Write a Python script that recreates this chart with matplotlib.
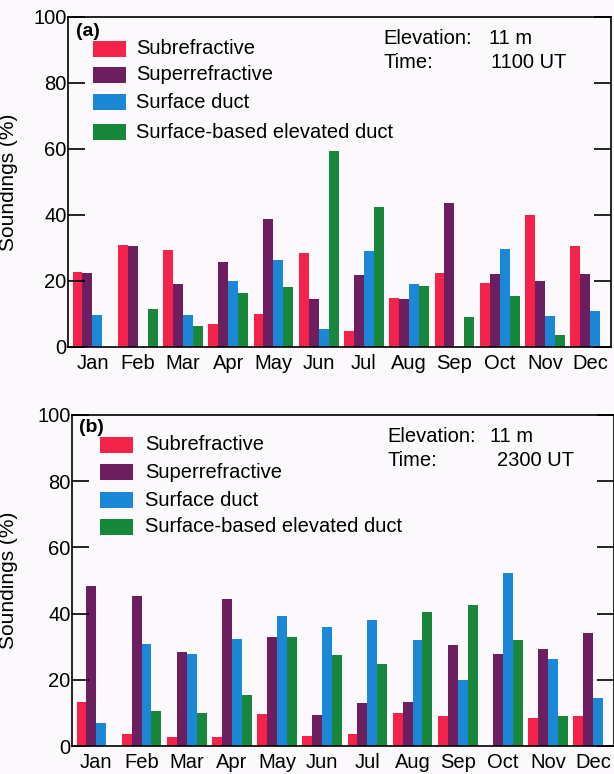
import numpy as np
import matplotlib
matplotlib.use("Agg")
import matplotlib.pyplot as plt
from matplotlib.patches import Rectangle

plt.rcParams['font.family'] = ['Liberation Sans', 'DejaVu Sans']

months = ['Jan', 'Feb', 'Mar', 'Apr', 'May', 'Jun',
          'Jul', 'Aug', 'Sep', 'Oct', 'Nov', 'Dec']
series = ['Subrefractive', 'Superrefractive', 'Surface duct',
          'Surface-based elevated duct']
colors = ['#f5234b', '#6b1f5f', '#1b87d7', '#17883b']

# (a) 1100 UT
sub_a = [22.8, 30.9, 29.3, 7.1, 10.0, 28.6, 4.7, 14.7, 22.4, 19.3, 39.9, 30.6]
sup_a = [22.4, 30.6, 19.2, 25.7, 38.7, 14.4, 21.8, 14.4, 43.6, 22.0, 19.9, 22.1]
sdu_a = [9.8, 0, 9.7, 20.0, 26.3, 5.6, 29.2, 19.1, 0, 29.6, 9.5, 10.9]
sbe_a = [0, 11.5, 6.3, 16.4, 18.1, 59.5, 42.5, 18.6, 9.0, 15.6, 3.6, 0]

# (b) 2300 UT
sub_b = [13.4, 3.5, 2.6, 2.6, 9.8, 3.1, 3.5, 9.9, 9.1, 0, 8.5, 9.1]
sup_b = [48.3, 45.3, 28.3, 44.3, 32.9, 9.5, 13.1, 13.2, 30.6, 27.8, 29.4, 34.1]
sdu_b = [7.0, 30.9, 27.7, 32.4, 39.2, 36.0, 38.1, 32.0, 19.8, 52.4, 26.3, 14.6]
sbe_b = [0, 10.7, 10.1, 15.5, 32.9, 27.5, 24.9, 40.6, 42.6, 32.0, 9.0, 0]

bg = '#fcf9fd'
fs = 14.5
fig = plt.figure(figsize=(6.14, 7.74), dpi=100, facecolor=bg)

W, H = 614.0, 774.0


def panel(rect, vals, tag, time, leg_x, txt_x, leg_rows, tag_xy, info):
    l, t, r, b = rect
    ax = fig.add_axes([l / W, 1 - b / H, (r - l) / W, (b - t) / H])
    ax.set_facecolor(bg)
    w = 0.22
    x = np.arange(len(months))
    for k, v in enumerate(vals):
        ax.bar(x + k * w, v, width=w, align='edge', color=colors[k], linewidth=0)
    ax.set_xlim(-0.1, 11.9)
    ax.set_ylim(0, 100)
    ax.set_xticks(x + 2 * w)
    ax.set_xticklabels(months, fontsize=fs)
    ax.set_yticks([0, 20, 40, 60, 80, 100])
    ax.tick_params(axis='x', length=0, pad=5)
    ax.tick_params(axis='y', direction='in', length=12, width=1.2,
                   labelsize=fs, right=True, pad=1)
    ax.set_ylabel('Soundings (%)', fontsize=15)

    # pixel -> axes fraction helpers
    fx = lambda px: (px - l) / (r - l)
    fy = lambda py: (b - py) / (b - t)

    ax.yaxis.set_label_coords(fx(18), 0.5)
    for s in ax.spines.values():
        s.set_linewidth(1.2)

    ax.text(fx(tag_xy[0]), fy(tag_xy[1]), tag, transform=ax.transAxes,
            fontsize=fs - 0.5, fontweight='bold', va='center', ha='left')
    for k, name in enumerate(series):
        cy = leg_rows[k]
        ax.add_patch(Rectangle((fx(leg_x), fy(cy + 8)), fx(leg_x + 33) - fx(leg_x),
                               fy(cy - 8) - fy(cy + 8), transform=ax.transAxes,
                               color=colors[k], linewidth=0, clip_on=False))
        ax.text(fx(txt_x), fy(cy), name, transform=ax.transAxes,
                fontsize=fs, va='center', ha='left')
    ex, vx, tx, y1, y2 = info
    ax.text(fx(ex), fy(y1), 'Elevation:', transform=ax.transAxes,
            fontsize=fs, va='center', ha='left')
    ax.text(fx(vx), fy(y1), '11 m', transform=ax.transAxes,
            fontsize=fs, va='center', ha='left')
    ax.text(fx(ex), fy(y2), 'Time:', transform=ax.transAxes,
            fontsize=fs, va='center', ha='left')
    ax.text(fx(tx), fy(y2), time, transform=ax.transAxes,
            fontsize=fs, va='center', ha='left')
    return ax


panel((68, 17, 611, 347), [sub_a, sup_a, sdu_a, sbe_a], '(a)', '1100 UT',
      93, 136, [49, 75, 102, 132], (76, 31), (383, 489, 491, 38, 62))
panel((72, 415, 614, 746), [sub_b, sup_b, sdu_b, sbe_b], '(b)', '2300 UT',
      100, 145, [445, 472, 500, 527], (79, 427), (387, 490, 497, 436, 460))

fig.savefig('out.png', dpi=100, facecolor=bg)
